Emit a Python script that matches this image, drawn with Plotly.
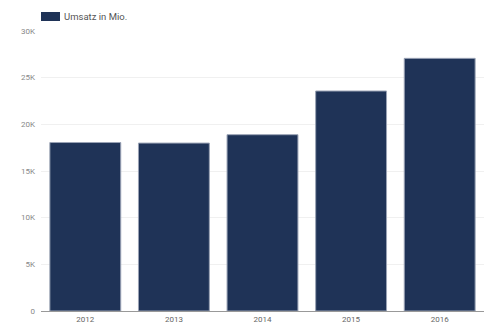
import plotly.graph_objects as go

years = ["2012", "2013", "2014", "2015", "2016"]
umsatz = [18050, 17990, 18890, 23570, 27070]
series_name = "Umsatz in Mio."
y_ticks = [0, 5000, 10000, 15000, 20000, 25000, 30000]
y_tick_labels = ["0", "5K", "10K", "15K", "20K", "25K", "30K"]

bar_color = "#1f3357"

fig = go.Figure()
fig.add_trace(go.Bar(
    x=years, y=umsatz, name=series_name,
    marker=dict(color=bar_color, line=dict(color="#9aa3b5", width=1)),
    showlegend=False,
))

W, H = 500, 331
ml, mr, mt, mb = 41, 16, 31, 20
pw, ph = W - ml - mr, H - mt - mb

def px_x(p):
    return (p - ml) / pw

def px_y(p):
    return 1 + (mt - p) / ph

fig.add_shape(type="rect", xref="paper", yref="paper",
              x0=px_x(41), x1=px_x(60), y0=px_y(21), y1=px_y(12),
              fillcolor=bar_color, line=dict(width=0))
fig.add_annotation(xref="paper", yref="paper", x=px_x(62), y=px_y(17),
                   text=series_name, showarrow=False, xanchor="left", yanchor="middle",
                   font=dict(size=9.5, color="#555555", family="Roboto"))

fig.update_layout(
    width=W, height=H,
    margin=dict(l=ml, r=mr, t=mt, b=mb),
    paper_bgcolor="white", plot_bgcolor="white",
    bargap=0.2,
    font=dict(family="Roboto", size=8, color="#777777"),
    xaxis=dict(showgrid=False, showline=True, linecolor="#999999", linewidth=1,
               ticks="", automargin=False, tickfont=dict(size=8, color="#666666")),
    yaxis=dict(range=[0, 30000], tickvals=y_ticks, ticktext=y_tick_labels,
               showgrid=True, gridcolor="#f0f0f0", gridwidth=1,
               zeroline=False, showline=False, ticks="", automargin=False,
               ticklabelstandoff=5,
               tickfont=dict(size=8, color="#888888")),
)

fig.write_html("out.html")
